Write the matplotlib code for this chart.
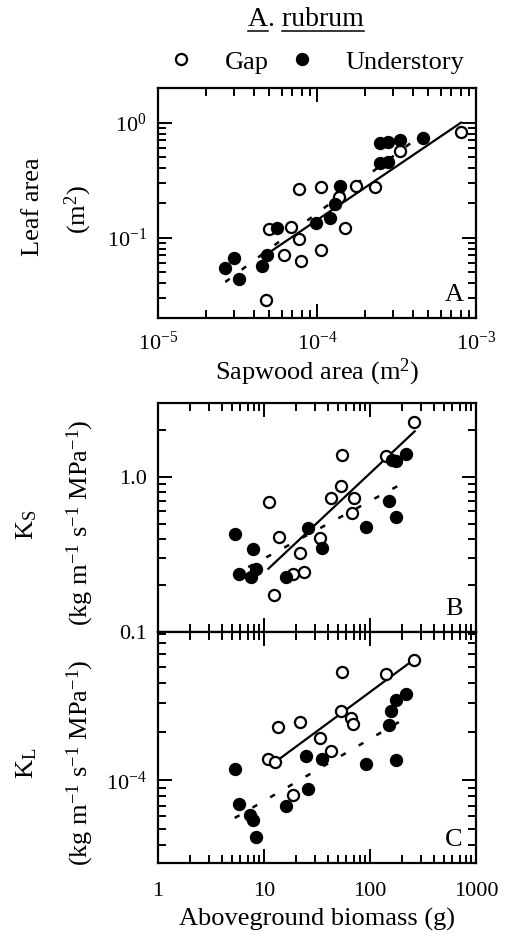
import matplotlib
matplotlib.use("Agg")
import matplotlib.pyplot as plt
from matplotlib.ticker import LogLocator, NullFormatter
from matplotlib.lines import Line2D

plt.rcParams["font.family"] = ["Liberation Serif", "DejaVu Serif"]
plt.rcParams["mathtext.fontset"] = "custom"
plt.rcParams["mathtext.rm"] = "Liberation Serif"
plt.rcParams["mathtext.it"] = "Liberation Serif:italic"
plt.rcParams["mathtext.bf"] = "Liberation Serif:bold"

# Panel A: leaf area vs sapwood area
a_gap_x = [8.05e-4, 3.32e-4, 2.32e-4, 1.76e-4, 1.06e-4, 7.68e-5, 1.37e-4, 1.49e-4,
           6.91e-5, 4.99e-5, 7.68e-5, 6.19e-5, 1.06e-4, 7.94e-5, 4.75e-5]
a_gap_y = [0.83, 0.567, 0.278, 0.281, 0.276, 0.267, 0.227, 0.122,
           0.124, 0.120, 0.098, 0.0707, 0.0776, 0.0627, 0.0287]
a_und_x = [4.65e-4, 3.31e-4, 2.78e-4, 2.49e-4, 2.78e-4, 2.50e-4, 1.39e-4, 1.30e-4,
           1.21e-4, 9.9e-5, 5.62e-5, 4.87e-5, 4.53e-5, 3.01e-5, 2.65e-5, 3.21e-5]
a_und_y = [0.731, 0.707, 0.679, 0.670, 0.455, 0.449, 0.281, 0.195,
           0.149, 0.133, 0.122, 0.0707, 0.0567, 0.067, 0.054, 0.0434]
a_gap_fit_x = [4.65e-5, 8.05e-4]
a_gap_fit_y = [0.0693, 1.0]
a_und_fit_x = [2.65e-5, 4.75e-4]
a_und_fit_y = [0.0411, 0.818]

# Panel B: Ks vs aboveground biomass
b_gap_x = [259, 141, 54.5, 53.7, 43.2, 71, 67.9, 11.2, 13.9, 33.4, 22.0, 24.0, 18.9, 12.5]
b_gap_y = [2.26, 1.37, 1.39, 0.871, 0.736, 0.736, 0.586, 0.690, 0.410, 0.404,
           0.323, 0.244, 0.236, 0.174]
b_und_x = [220, 177, 161, 150, 176, 91.6, 25.9, 35.2, 5.37, 7.91, 8.45, 5.78, 7.57, 16.3]
b_und_y = [1.41, 1.27, 1.29, 0.697, 0.552, 0.476, 0.469, 0.348, 0.431, 0.341,
           0.254, 0.236, 0.226, 0.226]
b_gap_fit_x = [11.0, 264]
b_gap_fit_y = [0.256, 1.97]
b_und_fit_x = [7.1, 220]
b_und_fit_y = [0.262, 0.937]

# Panel C: KL vs aboveground biomass
c_gap_x = [259, 141, 54.5, 53, 66.8, 69.3, 22.0, 13.7, 33.4, 43.2, 10.9, 12.6, 18.9]
c_gap_y = [5.55e-4, 4.55e-4, 4.62e-4, 2.69e-4, 2.41e-4, 2.22e-4, 2.28e-4, 2.14e-4,
           1.82e-4, 1.52e-4, 1.36e-4, 1.30e-4, 8.09e-5]
c_und_x = [220, 176, 158, 150, 176, 91.6, 24.9, 35.2, 25.9, 16.3, 5.37, 5.78, 7.35, 7.86, 8.33]
c_und_y = [3.40e-4, 3.13e-4, 2.67e-4, 2.20e-4, 1.33e-4, 1.26e-4, 1.42e-4, 1.35e-4,
           8.89e-5, 6.92e-5, 1.17e-4, 7.19e-5, 6.16e-5, 5.74e-5, 4.47e-5]
c_gap_fit_x = [12.4, 232]
c_gap_fit_y = [1.28e-4, 5.25e-4]
c_und_fit_x = [5.3, 215]
c_und_fit_y = [5.87e-5, 2.41e-4]

# ticks
a_xticks = [1e-5, 1e-4, 1e-3]
a_xticklabels = [r"$10^{-5}$", r"$10^{-4}$", r"$10^{-3}$"]
a_yticks = [0.1, 1.0]
a_yticklabels = [r"$10^{-1}$", r"$10^{0}$"]
bc_xticks = [1, 10, 100, 1000]
bc_xticklabels = ["1", "10", "100", "1000"]
b_yticks = [0.1, 1.0]
b_yticklabels = ["0.1", "1.0"]
c_yticks = [1e-4]
c_yticklabels = [r"$10^{-4}$"]

W, H = 506, 941
fig = plt.figure(figsize=(W / 100, H / 100), dpi=100)

left = 158 / W
width = (476 - 158) / W
ax_a = fig.add_axes([left, 1 - 318 / H, width, 230 / H])
ax_b = fig.add_axes([left, 1 - 632 / H, width, 229 / H])
ax_c = fig.add_axes([left, 1 - 863 / H, width, 231 / H])

dash = (0, (2.2, 6.0))
mk = dict(ms=8, mew=1.6, ls="none", color="black")


def draw_panel(ax, gx, gy, ux, uy, gfx, gfy, ufx, ufy, letter):
    ax.set_xscale("log")
    ax.set_yscale("log")
    ax.plot(gfx, gfy, color="black", lw=1.6, zorder=2)
    ax.plot(ufx, ufy, color="black", lw=1.8, ls=dash, zorder=2)
    ax.plot(gx, gy, marker="o", mfc="white", zorder=3, **mk)
    ax.plot(ux, uy, marker="o", mfc="black", zorder=3, **mk)
    ax.text(0.93, 0.1, letter, transform=ax.transAxes, ha="center", va="center",
            fontsize=19)
    for s in ax.spines.values():
        s.set_linewidth(1.6)
    ax.tick_params(which="both", direction="in", top=True, right=True, width=1.4,
                   labelsize=16, pad=8)
    ax.tick_params(which="major", length=10)
    ax.tick_params(which="minor", length=6)
    ax.xaxis.set_minor_locator(LogLocator(base=10, subs=range(2, 10), numticks=20))
    ax.yaxis.set_minor_locator(LogLocator(base=10, subs=range(2, 10), numticks=20))
    ax.xaxis.set_minor_formatter(NullFormatter())
    ax.yaxis.set_minor_formatter(NullFormatter())


draw_panel(ax_a, a_gap_x, a_gap_y, a_und_x, a_und_y,
           a_gap_fit_x, a_gap_fit_y, a_und_fit_x, a_und_fit_y, "A")
ax_a.set_xlim(1e-5, 1e-3)
ax_a.set_ylim(0.02, 2.0)
ax_a.set_xticks(a_xticks, a_xticklabels)
ax_a.set_yticks(a_yticks, a_yticklabels)
ax_a.tick_params(axis="x", which="major", pad=10)
ax_a.set_xlabel(r"Sapwood area (m$^2$)", fontsize=19, labelpad=1)

draw_panel(ax_b, b_gap_x, b_gap_y, b_und_x, b_und_y,
           b_gap_fit_x, b_gap_fit_y, b_und_fit_x, b_und_fit_y, "B")
ax_b.set_xlim(1, 1000)
ax_b.set_ylim(0.1, 3.0)
ax_b.set_xticks(bc_xticks, [""] * len(bc_xticks))
ax_b.set_yticks(b_yticks, b_yticklabels)

draw_panel(ax_c, c_gap_x, c_gap_y, c_und_x, c_und_y,
           c_gap_fit_x, c_gap_fit_y, c_und_fit_x, c_und_fit_y, "C")
ax_c.set_xlim(1, 1000)
ax_c.set_ylim(3.1e-5, 8.2e-4)
ax_c.set_xticks(bc_xticks, bc_xticklabels)
ax_c.set_yticks(c_yticks, c_yticklabels)
ax_c.tick_params(axis="x", which="major", pad=14)
ax_c.set_xlabel("Aboveground biomass (g)", fontsize=19, labelpad=5)

# rotated y labels
fig.text(33 / W, 1 - 207 / H, "Leaf area", rotation=90, ha="center", va="center", fontsize=19)
fig.text(78 / W, 1 - 210 / H, r"(m$^2$)", rotation=90, ha="center", va="center", fontsize=19)
units = r"(kg m$^{-1}$ s$^{-1}$ MPa$^{-1}$)"
fig.text(27 / W, 1 - 525 / H, r"K$_\mathrm{S}$", rotation=90, ha="center", va="center", fontsize=19)
fig.text(80 / W, 1 - 523 / H, units, rotation=90, ha="center", va="center", fontsize=19)
fig.text(27 / W, 1 - 763 / H, r"K$_\mathrm{L}$", rotation=90, ha="center", va="center", fontsize=19)
fig.text(80 / W, 1 - 763 / H, units, rotation=90, ha="center", va="center", fontsize=19)

# legend
handles = [Line2D([], [], marker="o", mfc="white", **mk),
           Line2D([], [], marker="o", mfc="black", **mk)]
fig.legend(handles, ["Gap", "Understory"], loc="center", ncol=2, frameon=False,
           bbox_to_anchor=(316 / W, 1 - 62 / H), fontsize=19,
           handlelength=1.0, handletextpad=1.15, columnspacing=0.75)

# title with underlined words
title = fig.text(306 / W, 1 - 20 / H, "A. rubrum", ha="center", va="center", fontsize=20)
fig.canvas.draw()
renderer = fig.canvas.get_renderer()
bb = title.get_window_extent(renderer)
probe = fig.text(0, 0, "A", fontsize=20)
w_a = probe.get_window_extent(renderer).width
probe.set_text("A. ")
w_ap = probe.get_window_extent(renderer).width
probe.remove()
y_ul = (bb.y0 + 2) / H
x0 = bb.x0 / W
fig.add_artist(Line2D([x0, (bb.x0 + w_a) / W], [y_ul, y_ul], color="black", lw=1.1))
fig.add_artist(Line2D([(bb.x0 + w_ap) / W, bb.x1 / W], [y_ul, y_ul], color="black", lw=1.1))

fig.savefig("out.png", dpi=100)
